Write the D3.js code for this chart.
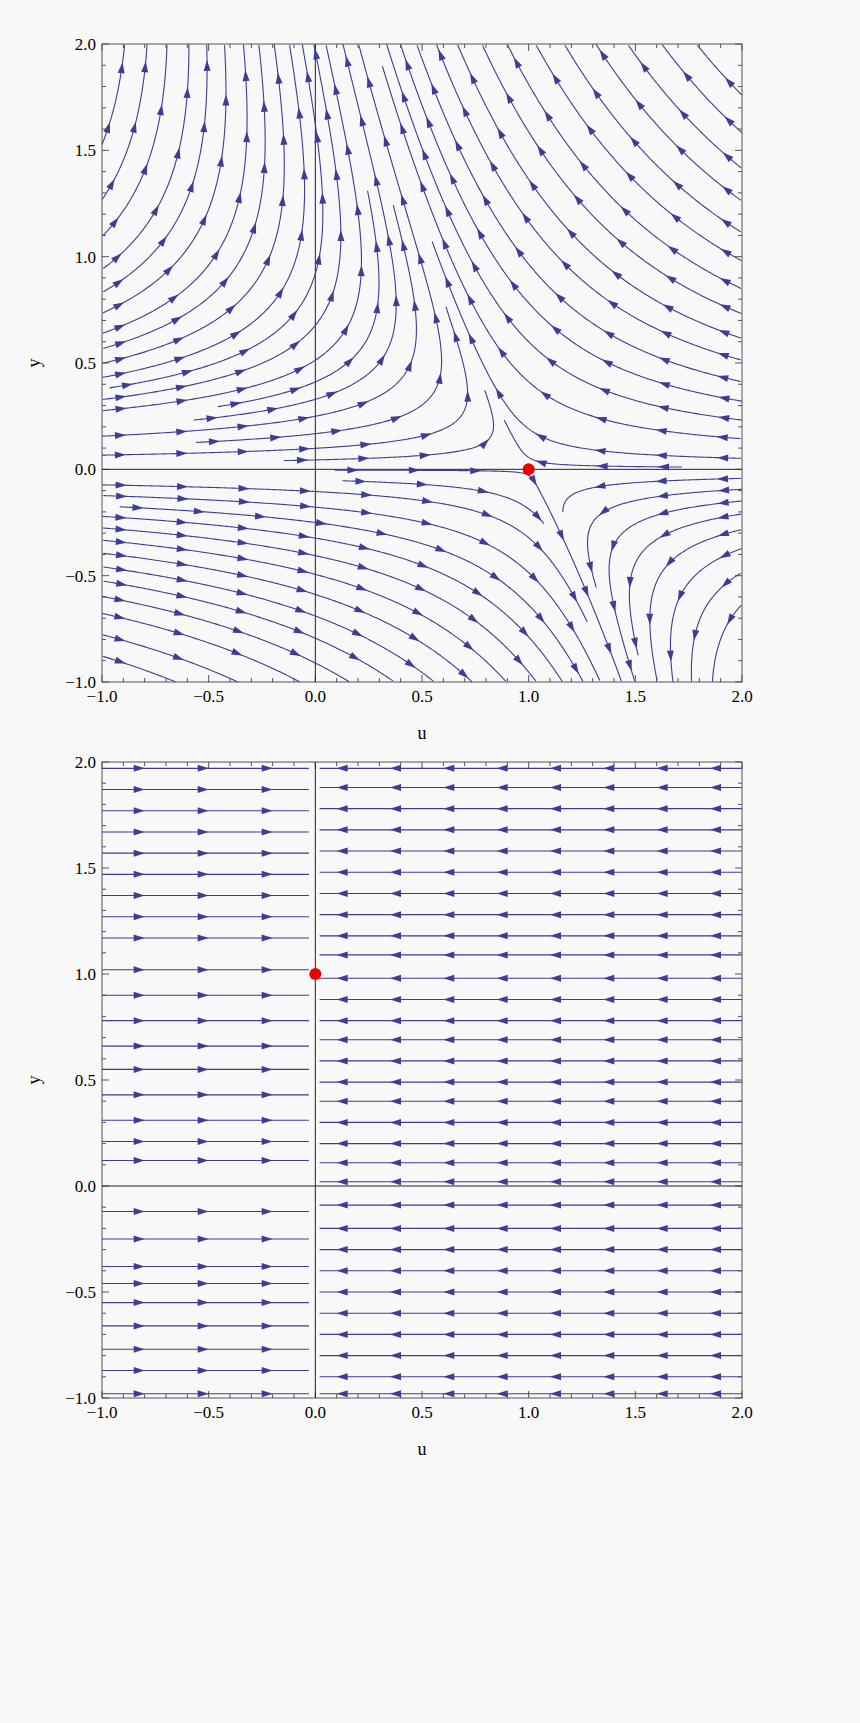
<!DOCTYPE html>
<html><head><meta charset="utf-8">
<script src="https://cdn.jsdelivr.net/npm/d3@7"></script>
<style>body{margin:0;background:#f8f8f8}</style>
</head><body>
<svg id="c" width="860" height="1723"></svg>
<script>
var svg = d3.select('#c');
var lineColor = '#3d3d96';

// axis ticks
var tickValues = [-1, -0.5, 0, 0.5, 1, 1.5, 2];
var tickLabels = ['\u22121.0', '\u22120.5', '0.0', '0.5', '1.0', '1.5', '2.0'];

// top panel: field coefficients u' = a0 + a1*u + a2*y, y' = k*y*(1+|y|)
var uCoef = [1, -1, -0.8];
var yCoef = [0.5];
var topFixed = [[1, 0]];

// bottom panel: horizontal flow lines
var leftY = [1.97, 1.87, 1.77, 1.67, 1.57, 1.47, 1.37, 1.27, 1.17, 1.02, 0.90, 0.78, 0.66, 0.55, 0.43, 0.31, 0.21, 0.12,
  -0.12, -0.25, -0.38, -0.46, -0.55, -0.66, -0.77, -0.87, -0.98];
var rightY = [1.97, 1.88, 1.78, 1.68, 1.58, 1.48, 1.38, 1.28, 1.18, 1.09, 0.98, 0.88, 0.78, 0.69, 0.59, 0.49, 0.40, 0.30, 0.20, 0.11, 0.02,
  -0.09, -0.20, -0.30, -0.40, -0.50, -0.60, -0.70, -0.80, -0.90, -0.98];
var leftArrowU = [-0.8, -0.5, -0.2];
var rightArrowU = [0.1, 0.35, 0.6, 0.85, 1.1, 1.35, 1.6, 1.85];
var bottomFixed = [[0, 1]];

function panel(top, h) {
  var g = svg.append('g');
  var x = d3.scaleLinear().domain([-1, 2]).range([102, 742]);
  var y = d3.scaleLinear().domain([-1, 2]).range([top + h, top]);
  g.append('rect').attr('x', 102).attr('y', top).attr('width', 640).attr('height', h)
    .attr('fill', 'none').attr('stroke', '#555').attr('stroke-width', 1);
  var minor = d3.range(-1, 2.001, 0.1);
  minor.forEach(function (v) {
    var major = Math.abs(v * 2 - Math.round(v * 2)) < 1e-6;
    var len = major ? 7 : 4;
    g.append('line').attr('x1', x(v)).attr('x2', x(v)).attr('y1', top + h).attr('y2', top + h - len).attr('stroke', '#555');
    g.append('line').attr('x1', x(v)).attr('x2', x(v)).attr('y1', top).attr('y2', top + len).attr('stroke', '#555');
    g.append('line').attr('y1', y(v)).attr('y2', y(v)).attr('x1', 102).attr('x2', 102 + len).attr('stroke', '#555');
    g.append('line').attr('y1', y(v)).attr('y2', y(v)).attr('x1', 742).attr('x2', 742 - len).attr('stroke', '#555');
  });
  tickValues.forEach(function (v, i) {
    g.append('text').attr('x', x(v)).attr('y', top + h + 20).attr('text-anchor', 'middle')
      .attr('font-family', 'Liberation Serif').attr('font-size', 17).text(tickLabels[i]);
    g.append('text').attr('x', 96).attr('y', y(v) + 6).attr('text-anchor', 'end')
      .attr('font-family', 'Liberation Serif').attr('font-size', 17).text(tickLabels[i]);
  });
  g.append('text').attr('x', 422).attr('y', top + h + 57).attr('text-anchor', 'middle')
    .attr('font-family', 'Liberation Serif').attr('font-size', 18).text('u');
  g.append('text').attr('transform', 'translate(40,' + (top + h / 2) + ') rotate(-90)').attr('text-anchor', 'middle')
    .attr('font-family', 'Liberation Serif').attr('font-size', 18).text('y');
  g.append('line').attr('x1', x(0)).attr('x2', x(0)).attr('y1', top).attr('y2', top + h).attr('stroke', '#222');
  g.append('line').attr('y1', y(0)).attr('y2', y(0)).attr('x1', 102).attr('x2', 742).attr('stroke', '#222');
  return { g: g, x: x, y: y };
}

function arrowHead(g, px, py, dx, dy) {
  var L = Math.hypot(dx, dy) || 1; dx /= L; dy /= L;
  var len = 11, w = 3.5;
  var bx = px - dx * len, by = py - dy * len;
  g.append('path').attr('d', 'M' + px + ',' + py + 'L' + (bx - dy * w) + ',' + (by + dx * w) + 'L' + (bx + dy * w) + ',' + (by - dx * w) + 'Z')
    .attr('fill', lineColor);
}

// ---------- top panel ----------
var P1 = panel(44, 638);
function field(u, y) {
  return [uCoef[0] + uCoef[1] * u + uCoef[2] * y, yCoef[0] * y * (1 + Math.abs(y))];
}
var dsep = 0.105, dtest = 0.05, h = 0.008, cell = dsep;
var grid = {};
function key(u, y) { return Math.floor((u + 1) / cell) + ',' + Math.floor((y + 1) / cell); }
function near(u, y, d, id) {
  var ci = Math.floor((u + 1) / cell), cj = Math.floor((y + 1) / cell);
  for (var a = ci - 1; a <= ci + 1; a++) for (var b = cj - 1; b <= cj + 1; b++) {
    var arr = grid[a + ',' + b]; if (!arr) continue;
    for (var k = 0; k < arr.length; k++) {
      var p = arr[k]; if (p[2] === id) continue;
      if (Math.hypot(p[0] - u, p[1] - y) < d) return true;
    }
  }
  return false;
}
function trace(u0, y0, dir, id) {
  var pts = [], u = u0, y = y0;
  for (var n = 0; n < 2000; n++) {
    var v = field(u, y), m = Math.hypot(v[0], v[1]);
    if (m < 1e-3) break;
    var mu = u + dir * h / 2 * v[0] / m, my = y + dir * h / 2 * v[1] / m;
    var v2 = field(mu, my), m2 = Math.hypot(v2[0], v2[1]);
    if (m2 < 1e-3) break;
    u += dir * h * v2[0] / m2; y += dir * h * v2[1] / m2;
    if (u < -1 || u > 2 || y < -1 || y > 2) break;
    if (near(u, y, dtest, id)) break;
    pts.push([u, y]);
  }
  return pts;
}
var lines = [], id = 0;
var seeds = [];
d3.range(-0.97, 2, 0.06).forEach(function (u) { d3.range(-0.97, 2, 0.06).forEach(function (y) { seeds.push([u, y]); }); });
seeds.sort(function (a, b) { return Math.hypot(a[0] - 1, a[1] - 0.6) - Math.hypot(b[0] - 1, b[1] - 0.6); });
seeds.forEach(function (s) {
  if (near(s[0], s[1], dsep, -1)) return;
  id++;
  var f = trace(s[0], s[1], 1, id), b = trace(s[0], s[1], -1, id);
  var pts = b.reverse().concat([s]).concat(f);
  if (pts.length < 30) return;
  pts.forEach(function (p) { var k = key(p[0], p[1]); (grid[k] = grid[k] || []).push([p[0], p[1], id]); });
  lines.push(pts);
});
var line1 = d3.line().x(function (d) { return P1.x(d[0]); }).y(function (d) { return P1.y(d[1]); });
lines.forEach(function (pts) {
  P1.g.append('path').attr('d', line1(pts)).attr('fill', 'none').attr('stroke', lineColor).attr('stroke-width', 1.1);
  for (var i = 14; i < pts.length - 2; i += 36) {
    var a = pts[i - 1], c = pts[i];
    arrowHead(P1.g, P1.x(c[0]), P1.y(c[1]), P1.x(c[0]) - P1.x(a[0]), P1.y(c[1]) - P1.y(a[1]));
  }
});
topFixed.forEach(function (p) {
  P1.g.append('circle').attr('cx', P1.x(p[0])).attr('cy', P1.y(p[1])).attr('r', 6).attr('fill', '#ee0000');
});

// ---------- bottom panel ----------
var P2 = panel(762, 636);
leftY.forEach(function (v) {
  P2.g.append('line').attr('x1', P2.x(-1)).attr('x2', P2.x(-0.03)).attr('y1', P2.y(v)).attr('y2', P2.y(v))
    .attr('stroke', lineColor).attr('stroke-width', 1.1);
  leftArrowU.forEach(function (u) { arrowHead(P2.g, P2.x(u), P2.y(v), 1, 0); });
});
rightY.forEach(function (v) {
  P2.g.append('line').attr('x1', P2.x(0.02)).attr('x2', P2.x(2)).attr('y1', P2.y(v)).attr('y2', P2.y(v))
    .attr('stroke', lineColor).attr('stroke-width', 1.1);
  rightArrowU.forEach(function (u) { arrowHead(P2.g, P2.x(u), P2.y(v), -1, 0); });
});
bottomFixed.forEach(function (p) {
  P2.g.append('circle').attr('cx', P2.x(p[0])).attr('cy', P2.y(p[1])).attr('r', 6).attr('fill', '#ee0000');
});
</script>
</body></html>
